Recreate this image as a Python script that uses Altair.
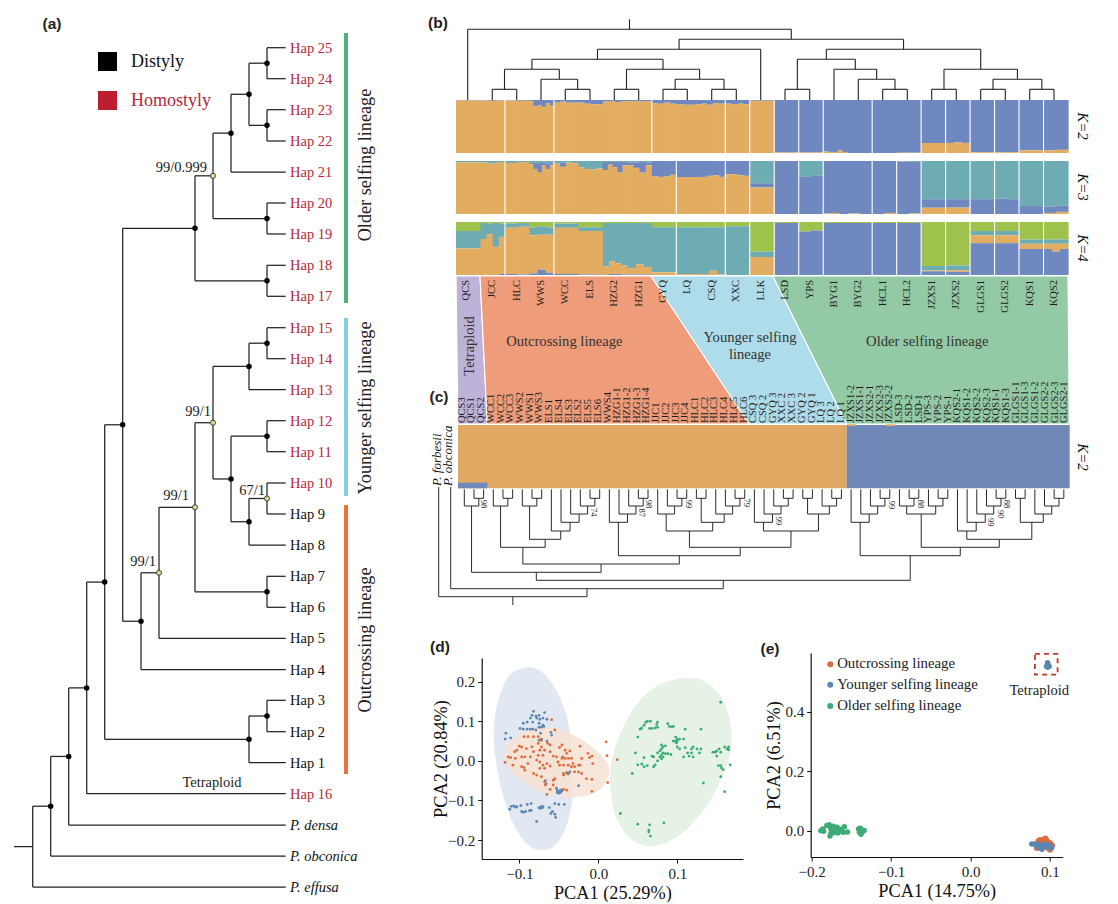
import altair as alt
import pandas as pd

SERIF = "Liberation Serif"
SANS = "Liberation Sans"
DARK = "#222222"
RED = "#b5283a"

# ---------- panel (a): haplotype tree ----------
TIP_Y = {"Hap 25": 47.7, "Hap 24": 78.7, "Hap 23": 109.7, "Hap 22": 141, "Hap 21": 172, "Hap 20": 203,
         "Hap 19": 234, "Hap 18": 265.3, "Hap 17": 296.3, "Hap 15": 327.7, "Hap 14": 358.7, "Hap 13": 389.7,
         "Hap 12": 420.7, "Hap 11": 451.7, "Hap 10": 483, "Hap 9": 514, "Hap 8": 545, "Hap 7": 576.3,
         "Hap 6": 607.3, "Hap 5": 638.3, "Hap 4": 669.7, "Hap 3": 700.3, "Hap 2": 731.7, "Hap 1": 762.7,
         "Hap 16": 793.7, "P. densa": 825, "P. obconica": 856, "P. effusa": 887}
TIP_END = 285.7
RED_TIPS = ["Hap 25", "Hap 24", "Hap 23", "Hap 22", "Hap 21", "Hap 20", "Hap 19", "Hap 18", "Hap 17", "Hap 15",
            "Hap 14", "Hap 13", "Hap 12", "Hap 11", "Hap 10", "Hap 16"]
ITALIC_TIPS = ["P. densa", "P. obconica", "P. effusa"]
# node = (depth position, supported-by-label flag, children)
TREE_A = (32.7, 0, [
    (50.7, 0, [
        (68.7, 0, [
            (86.7, 0, [
                (104.7, 0, [
                    (122.7, 0, [
                        (195, 0, [
                            (213, 1, [
                                (231, 0, [
                                    (249, 0, [(267, 0, ["Hap 25", "Hap 24"]), (267, 0, ["Hap 23", "Hap 22"])]),
                                    "Hap 21"]),
                                (267, 0, ["Hap 20", "Hap 19"])]),
                            (267, 0, ["Hap 18", "Hap 17"])]),
                        (141, 0, [
                            (159, 1, [
                                (195, 1, [
                                    (213, 1, [
                                        (249, 0, [(267, 0, ["Hap 15", "Hap 14"]), "Hap 13"]),
                                        (231, 0, [
                                            (267, 0, ["Hap 12", "Hap 11"]),
                                            (249, 0, [(267, 1, ["Hap 10", "Hap 9"]), "Hap 8"])])]),
                                    (267, 0, ["Hap 7", "Hap 6"])]),
                                "Hap 5"]),
                            "Hap 4"])]),
                    (249, 0, [(267, 0, ["Hap 3", "Hap 2"]), "Hap 1"])]),
                "Hap 16"]),
            "P. densa"]),
        "P. obconica"]),
    "P. effusa"])
ROOT_STUB_A = 14
SUPPORT_TXT = ["99/0.999", "99/1", "67/1", "99/1", "99/1"]
SUPPORT_X = [207, 211, 265, 189, 156]
SUPPORT_Y = [168, 412, 491, 496, 562]
LEG_TXT = ["Distyly", "Homostyly"]
LEG_COL = ["#000000", "#bb2030"]
LEG_Y = [61.5, 100.5]
BAR_NAMES = ["Older selfing lineage", "Younger selfing lineage", "Outcrossing lineage"]
BAR_TOP = [33, 318, 505]
BAR_BOT = [303, 496, 774]
BAR_COL = ["#4cb37c", "#84d0e4", "#ef7038"]
BAR_TEXT_Y = [165, 408, 640]

# ---------- panel (b) ----------
POP = ["QCS", "JCC", "HLC", "WWS", "WCC", "ELS", "HZG2", "HZG1", "GYQ", "LQ", "CSQ", "XXC", "LLK", "LSD", "YPS",
       "BYG1", "BYG2", "HCL1", "HCL2", "JZXS1", "JZXS2", "GLGS1", "GLGS2", "KQS1", "KQS2"]
POP_X = [467.7, 492.3, 516.7, 541, 565.3, 590, 614.3, 638.7, 663, 687.3, 711.7, 736.3, 760.7, 785, 809.7, 834,
         858.3, 882.7, 907.3, 931.7, 956.3, 980.7, 1005.3, 1029.7, 1054]
LV = [29.3, 39.3, 49.3, 59.3, 69.3, 79.3, 89.3]
TREE_B = (0, 0, (1, (2, (3, (4, (6, 1, 2), (5, 3, (6, 4, 5))), (4, (6, 6, 7), (5, (6, 8, 9), (6, 10, 11)))), 12),
                 (2, (3, (6, 13, 14), (4, 15, (5, 16, (6, 17, 18)))),
                  (4, (6, 19, 20), (5, (6, 21, 22), (6, 23, 24))))))
K2_BLUE = [[.01], [.01, .015, .01], [.01, .015], [.02, .12, .1, .13, .06, .11], [.05, .03, .05, .05], [.05, .07, .08, .08],
           [.03, .02, .04, .02], [.02, .03, .02], [.06, .07, .05, .07], [.08, .09, .09, .08], [.07, .09, .06, .07],
           [.07, .08, .07, .08], [.015], [.99], [.99], [.97, .98, .98, .95, .99], [1.0], [1.0], [.995], [.81], [.81, .8, .81],
           [.985], [.985], [.95], [.95, .94]]
K3_TB = [[(.03, 0)], [(.03, 0), (.05, 0), (.02, 0)], [(.04, 0), (.02, 0)],
         [(.04, .02), (.03, .12), (.04, .18), (.03, .05), (.05, .1), (.03, .04)],
         [(.05, 0), (.03, .08), (.03, 0), (.04, 0)], [(.12, 0), (.15, 0), (.16, 0), (.14, 0)],
         [(.02, .15), (.02, .05), (.02, .1), (.02, .2), (.02, .06)], [(.03, .05), (.03, .1), (.02, .2), (.03, .05)],
         [(0, .29), (0, .3), (0, .29), (0, .26)], [(0, .3)], [(0, .3), (0, .28), (0, .27), (0, .3)], [(0, .25), (0, .25), (0, .27), (0, .28)],
         [(.42, .08)], [(0, 1)], [(.3, .7), (.28, .72)], [(0, .99), (0, .98), (0, 1)], [(0, .99), (0, 1)], [(0, 1), (0, .98)], [(.01, .99), (.02, .97)],
         [(.72, .16)], [(.72, .16)], [(.72, .28)], [(.71, .29), (.72, .28)], [(.85, .15)], [(.86, .12), (.84, .12)]]
K4_GTO = [[(.17, .33, .5)], [(.02, .3, .68), (.03, .2, .77), (.02, .45, .53), (.03, .25, .7)], [(.03, .08, .87), (.02, .07, .9)],
          [(.1, .15, .72), (.08, .16, .66), (.1, .14, .72)], [(.03, .08, .87)], [(.1, .07, .82)],
          [(.02, .82, .16), (.02, .72, .24), (.02, .76, .2), (.02, .8, .17)], [(.02, .85, .12), (.02, .78, .19), (.02, .83, .14)],
          [(.1, .85, .05)], [(.1, .88, .02)], [(.1, .88, .02), (.1, .82, .08), (.1, .89, .01)], [(.08, .92, 0)],
          [(.56, .1, .34)], [(.02, 0, 0)], [(.18, 0, 0), (.16, 0, 0)], [(.02, 0, 0)], [(.02, 0, 0)], [(.02, 0, 0)], [(.02, 0, 0)],
          [(.83, .08, .02)], [(.82, .09, .03)], [(.17, .08, .15)], [(.17, .08, .15)], [(.33, .08, .1)], [(.33, .08, .1), (.33, .08, .15), (.33, .08, .1)]]
C_ORANGE = "#e3ad61"
C_BLUE = "#7088c0"
C_TEAL = "#6cacb2"
C_GREEN = "#9ec24c"
K_ROWS = [100, 161, 222]
K_HEIGHT = 53
STRUCT_LEFT = 456
STRUCT_POP_W = 24.48
K_SEPS = [[2, 4, 8, 11, 12, 13, 14, 15, 17, 19, 20, 21, 22, 23, 24],
          [2, 4, 9, 11, 12, 13, 14, 15, 17, 18, 19, 20, 21, 22, 23, 24],
          [2, 4, 9, 11, 12, 13, 14, 15, 17, 18, 19, 20, 21, 22, 23, 24]]
K_TXT = ["K=2", "K=3", "K=4", "K=2"]
K_TXT_Y = [126, 187, 248, 457]

# lineage ribbons: top-left, top-right, bottom-right, bottom-left
RIB_TOP = 276
RIB_BOT = 424
RIBBONS = [("#bfb2d9", [456, 480, 487.3, 458]),
           ("#ee9c7a", [480, 651, 749, 487.3]),
           ("#afdcea", [651, 772.7, 846.7, 749]),
           ("#93c9a5", [772.7, 1068, 1069.3, 846.7])]

# ---------- panel (c) ----------
SAMPLES = ["QCS3", "QCS1", "QCS2", "WCC1", "WCC2", "WCC3", "WWS2", "WWS1", "WWS3", "ELS1", "ELS4", "ELS3", "ELS2", "ELS5",
           "ELS6", "WWS4", "HZG1-1", "HZG1-2", "HZG1-3", "HZG1-4", "JJC1", "JJC2", "JJC3", "JJC4", "HLC1", "HLC2", "HLC3",
           "HLC4", "HLC5", "HLC6", "CSQ 3", "CSQ 2", "GYQ 3", "XXC 2", "XXC 3", "GYQ 2", "GYQ 1", "LQ 3", "LQ 2", "LQ 1",
           "JZXS1-2", "JZXS1-1", "JZXS2-1", "JZXS2-3", "JZXS2-2", "LSD-3", "LSD-2", "LSD-1", "YPS-3", "YPS-2", "YPS-1",
           "KQS2-1", "KQS1-2", "KQS2-2", "KQS2-3", "KQS1-1", "KQS1-3", "GLGS1-1", "GLGS1-3", "GLGS1-2", "GLGS2-2", "GLGS2-3",
           "GLGS2-1"]
SAMPLE_LEFT = 461.7
SAMPLE_STEP = 9.72
LEAF_LEFT = 464.3
LEAF_STEP = 9.67
FORB_X = 438.7
OBCON_X = 450.7
C_LV = [498.3, 506, 514, 522.3, 531, 539.3, 547.3, 555.7, 564, 572.3, 580.3, 588.7, 596.7]
C_TOP = 489.3
C_STUB = 605


def n(l, a, b):
    return (l, a, b)


G_A = n(1, 0, n(0, 1, 2))
G_B = n(1, 3, n(0, 4, 5))
G_C = n(1, 6, n(0, 7, 8))
G_D = n(4, 9, n(3, 10, n(2, 11, n(1, 12, n(0, 13, 14)))))
G_E = n(3, 15, n(2, 16, n(1, 17, n(0, 18, 19))))
G_F = n(2, 20, n(1, 21, n(0, 22, 23)))
G_G = n(3, n(0, 24, 25), n(2, 26, n(1, 27, n(0, 28, 29))))
G_H = n(3, 30, n(2, 31, n(1, 32, n(0, 33, 34))))
G_I = n(2, n(0, 35, 36), n(1, 37, n(0, 38, 39)))
G_J = n(3, 40, n(2, 41, n(1, 42, n(0, 43, 44))))
G_K = n(2, n(1, 45, n(0, 46, 47)), n(1, 48, n(0, 49, 50)))
G_L = n(3, 52, n(2, 53, n(1, 54, n(0, 55, 56))))
G_M = n(3, n(0, 57, 58), n(2, 59, n(1, 60, n(0, 61, 62))))
TREE_C = n(12, "forb", n(11, "obc", n(10,
    n(9, G_A, n(8, n(6, G_B, n(5, G_C, G_D)), n(7, G_E, n(6, n(4, G_F, G_G), n(4, G_H, G_I))))),
    n(7, G_J, n(6, G_K, n(5, n(4, 51, G_L), G_M))))))
BOOT_TXT = ["98", "74", "87", "98", "99", "79", "99", "99", "88", "99", "90", "88"]
BOOT_X = [484.3, 594.3, 642, 649.3, 688.7, 746.7, 779.3, 892, 921.3, 991, 1001.3, 1007]
BOOT_Y = [504, 512.3, 512.7, 504, 504, 502.7, 521, 505, 504, 522.3, 514.3, 504]

# ---------- panel (d) ----------
D_BLUE = [(-.082, .125), (-.084, .115), (-.079, .113), (-.075, .115), (-.068, .122), (-.086, .108), (-.078, .108), (-.074, .105),
          (-.07, .108), (-.065, .105), (-.095, .095), (-.09, .098), (-.083, .098), (-.075, .095), (-.07, .09), (-.075, .085),
          (-.072, .085), (-.069, .087), (-.099, .082), (-.095, .08), (-.09, .08), (-.086, .08), (-.083, .08), (-.079, .078),
          (-.06, .072), (-.059, .065), (-.117, .07), (-.118, .055), (-.111, .058), (-.073, .07), (-.072, .055), (-.065, .05),
          (-.075, .052), (-.112, -.122), (-.11, -.115), (-.107, -.114), (-.105, -.117), (-.103, -.116), (-.098, -.113),
          (-.097, -.128), (-.095, -.13), (-.092, -.128), (-.09, -.11), (-.087, -.126), (-.085, -.108), (-.085, -.125),
          (-.075, -.118), (-.074, -.12), (-.072, -.116), (-.071, -.119), (-.07, -.116), (-.062, -.118), (-.06, -.133),
          (-.058, -.128), (-.055, -.135), (-.054, -.143), (-.055, -.108), (-.05, -.11), (-.043, -.11), (-.078, -.153),
          (-.053, -.069), (-.052, -.075), (-.05, -.078), (-.052, -.08), (-.048, -.08), (-.046, -.076), (-.048, -.074),
          (-.05, -.082), (-.045, -.072), (-.04, -.03), (-.038, -.033), (-.036, -.028), (-.025, -.063), (-.067, -.05), (-.066, -.058)]
D_ORANGE = [(-.118, -.004), (-.114, .010), (-.111, .008), (-.106, .023), (-.103, .027), (-.100, .037), (-.097, .035), (-.105, .006),
            (-.108, -.011), (-.097, .010), (-.093, .010), (-.086, .010), (-.089, -.007), (-.094, -.017), (-.091, .031), (-.084, .035),
            (-.082, .061), (-.076, .061), (-.072, .035), (-.074, .027), (-.068, .027), (-.070, .014), (-.076, .014), (-.064, .044),
            (-.059, .104), (-.055, .078), (-.061, .023), (-.057, .012), (-.049, .034), (-.042, .027), (-.036, .025), (-.045, .010),
            (-.042, .006), (-.038, .006), (-.049, -.011), (-.044, -.011), (-.038, -.011), (-.032, -.007), (-.025, -.011), (-.021, .006),
            (-.013, .019), (-.008, .012), (-.011, .008), (-.007, -.007), (-.023, .037), (.010, .048), (.011, .013), (.012, -.055),
            (.024, .003), (-.082, -.032), (-.078, -.036), (-.074, -.019), (-.070, -.011), (-.068, -.019), (-.061, -.013), (-.065, -.007),
            (-.072, -.040), (-.068, -.053), (-.067, -.061), (-.057, -.049), (-.055, -.045), (-.044, -.032), (-.044, -.036), (-.038, -.032),
            (-.030, -.028), (-.025, -.028), (-.021, -.032), (-.023, -.011), (-.015, -.045), (-.008, -.047), (-.008, -.077), (-.040, -.074),
            (-.044, -.072), (-.065, -.085), (-.061, -.072), (-.057, -.061), (-.093, -.024), (-.097, -.015), (-.078, .002), (-.074, -.003),
            (-.082, .023), (-.046, .006), (-.040, .019), (-.034, .006), (-.053, .010), (-.051, -.003), (-.034, -.015), (-.030, -.015),
            (-.061, .040), (-.046, .040), (-.076, .044), (-.072, .052), (-.094, .061), (-.089, .061)]
D_GREEN = [(.062, .10), (.06, .097), (.058, .09), (.055, .083), (.053, .08), (.066, .1), (.075, .098), (.074, .092), (.075, .085),
           (.072, .083), (.068, .082), (.065, .082), (.05, .06), (.088, .094), (.09, .087), (.093, .086), (.095, .087),
           (.098, .06), (.1, .055), (.097, .05), (.1, .05), (.103, .055), (.108, .055), (.099, .045), (.095, .05), (.1, .035),
           (.103, .03), (.11, .033), (.12, .035), (.118, .03), (.125, .03), (.13, .03), (.113, .02), (.118, .02), (.128, .02),
           (.108, .01), (.115, .012), (.12, .01), (.11, .08), (.13, .08), (.08, .04), (.082, .035), (.085, .038), (.08, .03),
           (.078, .025), (.075, .02), (.08, .015), (.082, .02), (.085, .018), (.078, .01), (.08, .005), (.082, .01), (.088, .018),
           (.092, .016), (.07, .01), (.068, .012), (.075, .0), (.072, -.01), (.07, -.015), (.058, .008), (.055, -.008), (.05, -.01),
           (.047, .02), (.058, -.015), (.062, -.012), (.043, -.032), (.148, .022), (.15, .025), (.153, .03), (.155, .022),
           (.145, .022), (.15, .012), (.16, .035), (.165, .035), (.165, .028), (.163, .03), (.155, -.012), (.152, -.012),
           (.156, -.018), (.158, -.022), (.167, -.01), (.155, -.04), (.16, -.078), (.133, -.056), (.155, .148), (.028, -.133),
           (.05, -.16), (.065, -.162), (.064, -.175), (.064, -.18), (.066, -.19), (.083, -.157)]
ELL_BLUE = [(-.0907, .2359), (-.0738, .2275), (-.057, .1912), (-.0422, .1281), (-.0338, .0438), (-.0316, -.0657), (-.038, -.15),
            (-.0527, -.2089), (-.0717, -.2258), (-.0907, -.2089), (-.1097, -.15), (-.1245, -.0573), (-.1321, .0522),
            (-.1287, .1365), (-.1139, .2123)]
ELL_ORANGE = [(-.1194, .0143), (-.1089, .0522), (-.0886, .0792), (-.0633, .0842), (-.0338, .0674), (-.0084, .0354), (.0105, -.0025),
              (.0139, -.032), (.0042, -.0699), (-.0169, -.0885), (-.0422, -.091), (-.0717, -.0783), (-.097, -.0489), (-.1139, -.0194)]
ELL_GREEN = [(.1139, .2098), (.1392, .1954), (.1603, .1449), (.1688, .0607), (.1624, -.0152), (.1392, -.1078), (.1055, -.1837),
             (.0696, -.2157), (.0401, -.1963), (.0211, -.1331), (.0148, -.0404), (.0232, .0438), (.0464, .1365), (.0759, .1912)]
COL_ORANGE = "#dc6c3c"
COL_BLUE = "#5b87b2"
COL_GREEN = "#3dab76"

# ---------- panel (e) ----------
E_GREEN = [(-.1885, 0), (-.186, .006), (-.181, .018), (-.178, .020), (-.185, -.002), (-.176, .008), (-.173, .015), (-.171, .012),
           (-.17, .002), (-.176, -.010), (-.177, -.018), (-.172, -.006), (-.169, -.002), (-.167, -.008), (-.165, .003), (-.163, -.002),
           (-.16, -.005), (-.159, .013), (-.155, -.004), (-.141, .006), (-.139, .008), (-.137, .003), (-.136, -.003), (-.134, .001),
           (-.14, -.005), (-.138, -.012), (-.175, .002), (-.168, .012), (-.164, .005)]
E_ORANGE = [(.083, -.058), (.085, -.035), (.087, -.03), (.09, -.03), (.093, -.03), (.094, -.025), (.095, -.028), (.097, -.035), (.1, -.04),
            (.101, -.045), (.103, -.05), (.1, -.065), (.098, -.06), (.093, -.055), (.09, -.05), (.088, -.04), (.085, -.05), (.096, -.05)]
E_BLUE = [(.077, -.045), (.08, -.045), (.083, -.05), (.086, -.058), (.088, -.05), (.09, -.062), (.092, -.05), (.094, -.045), (.096, -.055),
          (.099, -.05), (.101, -.052), (.102, -.058), (.085, -.045), (.09, -.055), (.097, .565), (.0975, .558), (.0955, .553), (.099, .553), (.097, .55)]
LEG_E_TXT = ["Outcrossing lineage", "Younger selfing lineage", "Older selfing lineage"]
LEG_E_COL = [COL_ORANGE, COL_BLUE, COL_GREEN]
LEG_E_Y = [.56, .491, .42]
LEG_E_X = -.1767
LEG_E_TXTX = -.168


# ---------- helpers ----------
def axes(xd, yd):
    xs = alt.Scale(domain=xd, nice=False, zero=False)
    ys = alt.Scale(domain=yd, nice=False, zero=False)
    return (lambda f, **k: alt.X(f, scale=xs, axis=None, **k)), (lambda f, **k: alt.Y(f, scale=ys, axis=None, **k))


class Canvas:
    def __init__(self, xd, yd):
        self.X, self.Y = axes(xd, yd)

    def text(self, xs, ys, ts, size, color=DARK, angle=0, align="center", font=SERIF, style="normal", weight="normal", baseline="middle"):
        df = pd.DataFrame({"x": xs, "y": ys, "t": ts})
        return alt.Chart(df).mark_text(font=font, fontSize=size, fill=color, angle=angle, align=align, fontStyle=style,
                                       fontWeight=weight, baseline=baseline).encode(
            x=self.X("x:Q"), y=self.Y("y:Q"), text="t:N")

    def rules(self, segs, color="#222222", width=1.2):
        df = pd.DataFrame(segs, columns=["x", "y", "x2", "y2"])
        return alt.Chart(df).mark_rule(color=color, strokeWidth=width).encode(
            x=self.X("x:Q"), y=self.Y("y:Q"), x2="x2:Q", y2="y2:Q")

    def rects(self, rows):
        df = pd.DataFrame(rows, columns=["x", "y", "x2", "y2", "c"])
        return alt.Chart(df).mark_rect(strokeWidth=0).encode(
            x=self.X("x:Q"), y=self.Y("y:Q"), x2="x2:Q", y2="y2:Q", color=alt.Color("c:N", scale=None))


# ---------- build (a) ----------
ca = Canvas([8, 425], [900, 8])
a_seg, a_black, a_yellow = [], [], []


def walk_a(node):
    if isinstance(node, str):
        return TIP_END, TIP_Y[node]
    x, flag, kids = node
    pts = [walk_a(k) for k in kids]
    y = (pts[0][1] + pts[-1][1]) / 2
    a_seg.append((x, pts[0][1], x, pts[-1][1]))
    for cx, cy in pts:
        a_seg.append((x, cy, cx, cy))
    (a_yellow if flag else a_black).append((x, y))
    return x, y


rx, ry = walk_a(TREE_A)
a_seg.append((ROOT_STUB_A, ry, rx, ry))
a_black.remove((rx, ry))
black = [t for t in TIP_Y if t not in RED_TIPS and t not in ITALIC_TIPS]
panel_a = alt.layer(
    ca.rules(a_seg, "#222222", 1.25),
    alt.Chart(pd.DataFrame(a_black, columns=["x", "y"])).mark_circle(size=30, color="#000000", opacity=1).encode(x=ca.X("x:Q"), y=ca.Y("y:Q")),
    alt.Chart(pd.DataFrame(a_yellow, columns=["x", "y"])).mark_point(size=26, filled=True, fill="#d9df90", stroke="#333333", strokeWidth=0.9, opacity=1).encode(x=ca.X("x:Q"), y=ca.Y("y:Q")),
    ca.text([TIP_END + 4.3] * len(RED_TIPS), [TIP_Y[t] + 1 for t in RED_TIPS], RED_TIPS, 14.5, RED, align="left"),
    ca.text([TIP_END + 4.3] * len(black), [TIP_Y[t] + 1 for t in black], black, 14.5, "#111111", align="left"),
    ca.text([TIP_END + 4.3] * len(ITALIC_TIPS), [TIP_Y[t] + 1 for t in ITALIC_TIPS], ITALIC_TIPS, 14.5, "#111111", align="left", style="italic"),
    ca.text(SUPPORT_X, SUPPORT_Y, SUPPORT_TXT, 14.5, align="right"),
    ca.text([212], [783], ["Tetraploid"], 14.4),
    ca.rects([(98, y - 9.5, 117, y + 9.5, c) for y, c in zip(LEG_Y, LEG_COL)]),
    ca.text([131], [LEG_Y[0]], [LEG_TXT[0]], 18, "#111111", align="left"),
    ca.text([131], [LEG_Y[1]], [LEG_TXT[1]], 18, RED, align="left"),
    ca.rects([(344, t, 348, b, c) for t, b, c in zip(BAR_TOP, BAR_BOT, BAR_COL)]),
    ca.text([366] * 3, BAR_TEXT_Y, BAR_NAMES, 18.2, angle=270),
    ca.text([52], [24], ["(a)"], 15.5, "#222222", font=SANS, weight="bold"),
).properties(width=417, height=892)

# ---------- build (b)(c) ----------
cb = Canvas([425, 1105], [653, 8])
b_seg = []


def walk_b(node):
    if isinstance(node, int):
        return POP_X[node], K_ROWS[0]
    lv, l, r = node
    a = walk_b(l)
    b = walk_b(r)
    y = LV[lv]
    b_seg.extend([(a[0], y, b[0], y), (a[0], y, a[0], a[1]), (b[0], y, b[0], b[1])])
    return (a[0] + b[0]) / 2, y


bx, by = walk_b(TREE_B)
b_seg.append((bx, by, bx, 19.3))

rows = []


def add_stack(k, pop_i, col_list):
    x0 = STRUCT_LEFT + STRUCT_POP_W * pop_i
    w = STRUCT_POP_W / len(col_list)
    top = K_ROWS[k]
    for j, parts in enumerate(col_list):
        acc = 0
        for frac, col in parts:
            if frac <= 0:
                continue
            rows.append((x0 + j * w, top + acc * K_HEIGHT, x0 + (j + 1) * w + 0.6, top + min(acc + frac, 1) * K_HEIGHT, col))
            acc += frac


for i, cols in enumerate(K2_BLUE):
    add_stack(0, i, [[(v, C_BLUE), (1 - v, C_ORANGE)] for v in cols])
for i, cols in enumerate(K3_TB):
    add_stack(1, i, [[(t, C_TEAL), (b, C_BLUE), (1 - t - b, C_ORANGE)] for t, b in cols])
for i, cols in enumerate(K4_GTO):
    add_stack(2, i, [[(g, C_GREEN), (t, C_TEAL), (o, C_ORANGE), (1 - g - t - o, C_BLUE)] for g, t, o in cols])

seps = []
for k, lst in enumerate(K_SEPS):
    for s in lst:
        xp = STRUCT_LEFT + STRUCT_POP_W * s
        seps.append((xp, K_ROWS[k], xp, K_ROWS[k] + K_HEIGHT))

ribbon_layers = []
for col, xs in RIBBONS:
    df = pd.DataFrame({"x": xs, "y": [RIB_TOP, RIB_TOP, RIB_BOT, RIB_BOT], "i": range(4)})
    ribbon_layers.append(alt.Chart(df).mark_line(interpolate="linear-closed", fill=col, stroke="#ffffff", strokeWidth=1.1).encode(
        x=cb.X("x:Q"), y=cb.Y("y:Q"), order="i:Q"))

c_seg = []
LEAF_TOP = {"forb": (FORB_X, 487), "obc": (OBCON_X, 487)}


def walk_c(node):
    if isinstance(node, str):
        return LEAF_TOP[node]
    if isinstance(node, int):
        return LEAF_LEFT + LEAF_STEP * node, C_TOP
    lv, l, r = node
    a = walk_c(l)
    b = walk_c(r)
    y = C_LV[lv]
    c_seg.extend([(a[0], y, b[0], y), (a[0], y, a[0], a[1]), (b[0], y, b[0], b[1])])
    return (a[0] + b[0]) / 2, y


cx, cy = walk_c(TREE_C)
c_seg.append((cx, cy, cx, C_STUB))

c_rects = [(458, 425, 846.7, 488.3, "#dfa863"), (846.7, 425, 1069.7, 488.3, "#6f88b8"), (458, 482.7, 487.3, 488.3, "#6f88b8"),
           (846.7, 424.3, 856, 426, "#dfa863"), (886, 424.3, 895, 426, "#dfa863")]

panel_b = alt.layer(
    cb.rects(rows),
    cb.rules(seps, "#ffffff", 1.1),
    cb.rules(b_seg, "#222222", 1.1),
    *ribbon_layers,
    cb.text([466] + POP_X[1:], [280] * 25, POP, 10.5, "#1c1c1c", angle=270, align="right"),
    cb.text([470], [346], ["Tetraploid"], 14.5, "#333333", angle=270),
    cb.text([564.3], [341.7], ["Outcrossing lineage"], 14.6, "#333333"),
    cb.text([750, 750], [338, 355], ["Younger selfing", "lineage"], 14.6, "#333333"),
    cb.text([927.3], [342], ["Older selfing lineage"], 14.6, "#333333"),
    cb.text([SAMPLE_LEFT + SAMPLE_STEP * i for i in range(len(SAMPLES))], [423] * len(SAMPLES), SAMPLES, 10.5, "#1c1c1c", angle=270, align="left"),
    cb.rects(c_rects),
    cb.rules(c_seg, "#2a2a2a", 1.0),
    cb.text(BOOT_X, BOOT_Y, BOOT_TXT, 8.5, "#111111", angle=90),
    cb.text([1083] * 4, K_TXT_Y, K_TXT, 15, "#111111", angle=90, style="italic"),
    cb.text([436.7, 447.7], [486, 486], ["P. forbesii", "P. obconica"], 13, "#111111", angle=270, align="left", style="italic"),
    cb.text([438, 439, 440, 770], [23, 397, 647, 649], ["(b)", "(c)", "(d)", "(e)"], 15.5, "#222222", font=SANS, weight="bold"),
).properties(width=680, height=645)


# ---------- build (d)(e) ----------
def pts(lst, col, xe, ye, size):
    df = pd.DataFrame(lst, columns=["x", "y"])
    return alt.Chart(df).mark_circle(size=size, color=col, opacity=1).encode(x=xe, y=ye)


AX = dict(domainColor="#111111", domainWidth=1.2, tickColor="#111111", tickSize=4, grid=False, labelFont=SERIF, labelFontSize=15,
          labelColor="#222222", titleFont=SERIF, titleFontSize=18.3, titleFontWeight="normal", titleColor="#111111",
          labelFlush=False, labelPadding=3)

dx = alt.X("x:Q", title="PCA1 (25.29%)", scale=alt.Scale(domain=[-.1476, .1832], range=[56.7, 318], nice=False, zero=False),
           axis=alt.Axis(values=[-.1, 0, .1], format=".1f", titlePadding=3, **AX))
dy = alt.Y("y:Q", title="PCA2 (20.84%)", scale=alt.Scale(domain=[-.248, .2598], range=[206, 5], nice=False, zero=False),
           axis=alt.Axis(values=[-.2, -.1, 0, .1, .2], format=".1f", offset=-56.7, titlePadding=-3, **AX))


def ell(lst, col, op):
    df = pd.DataFrame(lst, columns=["x", "y"])
    df["i"] = range(len(df))
    return alt.Chart(df).mark_line(interpolate="cardinal-closed", fill=col, fillOpacity=op, strokeWidth=0, stroke="transparent").encode(
        x=dx, y=dy, order="i:Q")


panel_d = alt.layer(
    ell(ELL_BLUE, "#dfe6f1", .9), ell(ELL_GREEN, "#e4f1e4", .9), ell(ELL_ORANGE, "#f8e2d3", .85),
    pts(D_BLUE, COL_BLUE, dx, dy, 8), pts(D_ORANGE, COL_ORANGE, dx, dy, 8), pts(D_GREEN, COL_GREEN, dx, dy, 8),
).properties(width=318, height=206)

ex = alt.X("x:Q", title="PCA1 (14.75%)", scale=alt.Scale(domain=[-.2013, .116], nice=False, zero=False),
           axis=alt.Axis(values=[-.2, -.1, 0, .1], format=".1f", titlePadding=3, **AX))
ey = alt.Y("y:Q", title="PCA2 (6.51%)", scale=alt.Scale(domain=[-.0884, .598], nice=False, zero=False),
           axis=alt.Axis(values=[0, .2, .4], format=".1f", titlePadding=1, **AX))
leg_df = pd.DataFrame({"x": [LEG_E_X] * 3, "y": LEG_E_Y, "c": LEG_E_COL})
leg_t = pd.DataFrame({"x": [LEG_E_TXTX] * 3, "y": LEG_E_Y, "t": LEG_E_TXT})
tet_t = pd.DataFrame({"x": [.0865], "y": [.47], "t": ["Tetraploid"]})
box = pd.DataFrame({"x": [.081], "x2": [.1096], "y": [.525], "y2": [.595]})
panel_e = alt.layer(
    pts(E_GREEN, COL_GREEN, ex, ey, 30), pts(E_ORANGE, COL_ORANGE, ex, ey, 30), pts(E_BLUE, COL_BLUE, ex, ey, 30),
    alt.Chart(leg_df).mark_circle(size=36, opacity=1).encode(x=ex, y=ey, color=alt.Color("c:N", scale=None)),
    alt.Chart(leg_t).mark_text(font=SERIF, fontSize=14.8, align="left", baseline="middle", fill="#222222").encode(x=ex, y=ey, text="t:N"),
    alt.Chart(tet_t).mark_text(font=SERIF, fontSize=14.6, baseline="middle", fill="#222222").encode(x=ex, y=ey, text="t:N"),
    alt.Chart(box).mark_rect(fillOpacity=0, fill="#ffffff", stroke="#c0392b", strokeWidth=1.8, strokeDash=[5, 4]).encode(x=ex, y=ey, x2="x2:Q", y2="y2:Q"),
).properties(width=252, height=204)

bottom = alt.hconcat(panel_d, panel_e, spacing=67.7, bounds="flush")
right = alt.vconcat(panel_b, bottom, spacing=0, bounds="flush")
chart = alt.hconcat(panel_a, right, spacing=0).properties(padding=0, background="#ffffff").configure_view(strokeWidth=0).configure_concat(spacing=0)
chart.save("out.html", embed_options={"renderer": "svg", "actions": False})
